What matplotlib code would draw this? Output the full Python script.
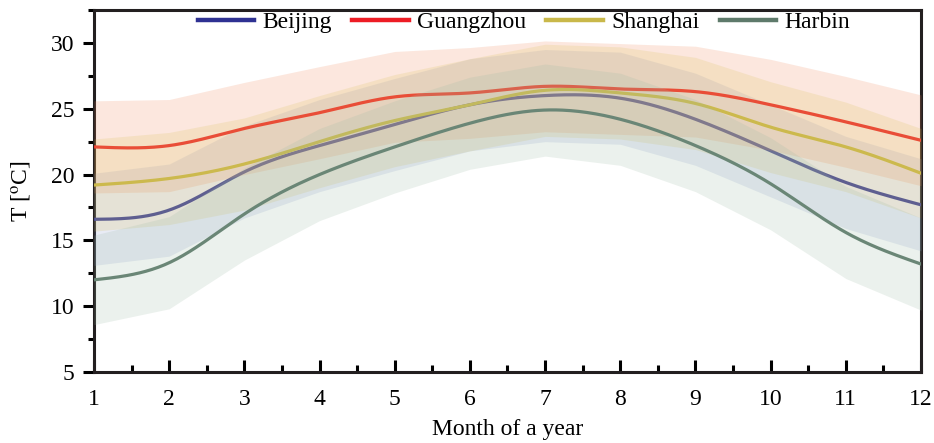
import numpy as np
import matplotlib.pyplot as plt
from matplotlib.ticker import MultipleLocator

plt.rcParams['font.family'] = ['Liberation Serif', 'DejaVu Serif']
plt.rcParams['mathtext.fontset'] = 'stix'

months = np.arange(1, 13)
cities = ["Beijing", "Guangzhou", "Shanghai", "Harbin"]

# monthly mean temperature
beijing = [16.6, 17.3, 20.2, 22.2, 23.8, 25.3, 26.0, 25.8, 24.2, 21.8, 19.4, 17.7]
guangzhou = [22.1, 22.2, 23.5, 24.7, 25.9, 26.2, 26.7, 26.5, 26.3, 25.3, 24.0, 22.6]
shanghai = [19.2, 19.7, 20.8, 22.5, 24.1, 25.3, 26.4, 26.2, 25.4, 23.6, 22.1, 20.1]
harbin = [12.0, 13.3, 17.0, 20.0, 22.1, 23.9, 24.9, 24.2, 22.2, 19.3, 15.6, 13.2]

# half width of the shaded band
beijing_sd = [3.5, 3.5, 3.5, 3.5, 3.5, 3.5, 3.5, 3.5, 3.5, 3.5, 3.5, 3.5]
guangzhou_sd = [3.5, 3.5, 3.5, 3.5, 3.45, 3.45, 3.45, 3.45, 3.45, 3.45, 3.45, 3.45]
shanghai_sd = [3.5, 3.5, 3.5, 3.5, 3.5, 3.5, 3.5, 3.5, 3.5, 3.45, 3.4, 3.4]
harbin_sd = [3.4, 3.5, 3.5, 3.5, 3.5, 3.5, 3.5, 3.5, 3.5, 3.5, 3.5, 3.5]

line_colors = ["#2e3192", "#ed1c24", "#c9b84a", "#5e7a6b"]
band_colors = ["#8c9fd0", "#f08a5d", "#d9c25a", "#9dbba6"]


def natural_spline(x, y, xs):
    # plain natural cubic spline, only used to draw the smooth curve
    x = np.asarray(x, float)
    y = np.asarray(y, float)
    n = len(x)
    h = np.diff(x)
    A = np.zeros((n, n))
    r = np.zeros(n)
    A[0, 0] = A[-1, -1] = 1.0
    for i in range(1, n - 1):
        A[i, i - 1] = h[i - 1]
        A[i, i] = 2 * (h[i - 1] + h[i])
        A[i, i + 1] = h[i]
        r[i] = 6 * ((y[i + 1] - y[i]) / h[i] - (y[i] - y[i - 1]) / h[i - 1])
    m = np.linalg.solve(A, r)
    idx = np.clip(np.searchsorted(x, xs) - 1, 0, n - 2)
    t0 = x[idx]
    t1 = x[idx + 1]
    hh = t1 - t0
    a = (t1 - xs) / hh
    b = (xs - t0) / hh
    return (a * y[idx] + b * y[idx + 1]
            + ((a ** 3 - a) * m[idx] + (b ** 3 - b) * m[idx + 1]) * hh ** 2 / 6)


fig = plt.figure(figsize=(9.34, 4.43), dpi=100)
ax = fig.add_axes([0.1006, 0.1603, 0.8855, 0.8171])

xs = np.linspace(1, 12, 400)
series = [(beijing, beijing_sd), (guangzhou, guangzhou_sd),
          (shanghai, shanghai_sd), (harbin, harbin_sd)]
for (vals, sd), lc, bc in zip(series, line_colors, band_colors):
    vals = np.array(vals)
    sd = np.array(sd)
    ax.plot(xs, natural_spline(months, vals, xs), color=lc, lw=2.3, zorder=3)
    ax.fill_between(months, vals - sd, vals + sd, color=bc, alpha=0.2,
                    lw=0, zorder=3)

handles = [plt.Line2D([], [], color=c, lw=3.2) for c in line_colors]
ax.legend(handles, cities, loc='upper center', bbox_to_anchor=(0.52, 1.055),
          ncol=4, frameon=False, fontsize=17, handlelength=2.4,
          handletextpad=0.35, columnspacing=0.85)

ax.set_xlim(1, 12)
ax.set_ylim(5, 32.5)
ax.set_xticks(months)
ax.xaxis.set_minor_locator(MultipleLocator(0.5))
ax.yaxis.set_major_locator(MultipleLocator(5))
ax.yaxis.set_minor_locator(MultipleLocator(2.5))
ax.tick_params(axis='x', which='major', direction='in', length=9, width=2.2,
               labelsize=17, pad=12)
ax.tick_params(axis='x', which='minor', direction='in', length=5, width=2.2)
ax.tick_params(axis='y', which='major', direction='out', length=8, width=2.2,
               labelsize=17, pad=6)
ax.tick_params(axis='y', which='minor', direction='out', length=4.5, width=2.2)
for sp in ax.spines.values():
    sp.set_linewidth(2.2)
    sp.set_color('#231f20')

ax.set_xlabel("Month of a year", fontsize=17, labelpad=7)
ax.set_ylabel("T [$^{\\rm o}$C]", fontsize=17, labelpad=12)

fig.savefig("out.png", dpi=100)
